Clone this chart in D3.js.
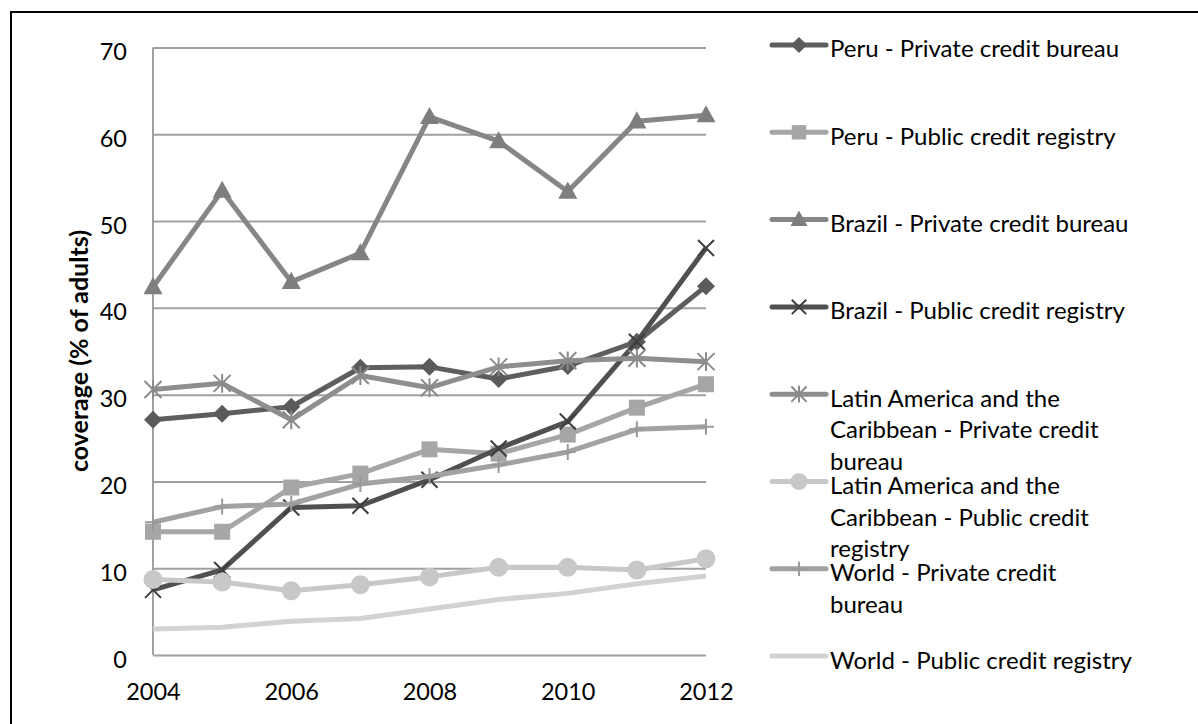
<!DOCTYPE html>
<html><head><meta charset="utf-8">
<script src="https://cdn.jsdelivr.net/npm/d3@7"></script>
<style>body{margin:0;background:#fff;} svg{display:block;}</style>
</head><body>
<svg id="c" width="1198" height="724"></svg>
<script>
const years = [2004,2005,2006,2007,2008,2009,2010,2011,2012];
const xTickLabels = [2004,2006,2008,2010,2012];
const yTickLabels = [0,10,20,30,40,50,60,70];
const yAxisTitle = "coverage (% of adults)";

const peruPrivate   = [27.1,27.8,28.6,33.1,33.2,31.8,33.3,36.1,42.5];
const peruPublic    = [14.2,14.2,19.3,20.9,23.7,23.2,25.4,28.5,31.2];
const brazilPrivate = [42.4,53.5,43.0,46.3,62.0,59.2,53.4,61.5,62.2];
const brazilPublic  = [7.5,9.8,17.0,17.2,20.2,23.8,26.9,36.1,46.9];
const lacPrivate    = [30.6,31.3,27.1,32.2,30.8,33.2,33.9,34.2,33.8];
const lacPublic     = [8.7,8.4,7.4,8.1,9.0,10.1,10.1,9.8,11.1];
const worldPrivate  = [15.3,17.1,17.4,19.7,20.6,21.9,23.4,26.0,26.3];
const worldPublic   = [3.0,3.2,3.9,4.2,5.3,6.4,7.1,8.2,9.1];

const seriesNames = [
  ["Peru - Private credit bureau"],
  ["Peru - Public credit registry"],
  ["Brazil - Private credit bureau"],
  ["Brazil - Public credit registry"],
  ["Latin America and the","Caribbean - Private credit","bureau"],
  ["Latin America and the","Caribbean - Public credit","registry"],
  ["World - Private credit","bureau"],
  ["World - Public credit registry"]
];
const seriesValues = [peruPrivate, peruPublic, brazilPrivate, brazilPublic, lacPrivate, lacPublic, worldPrivate, worldPublic];
const seriesColors = ["#5e5e5e","#a6a6a6","#868686","#505050","#8e8e8e","#c8c8c8","#a2a2a2","#d2d2d2"];
const markerKinds  = ["diamond","square","triangle","x","asterisk","circle","plus","none"];
const markerColors = ["#5a5a5a","#a6a6a6","#7e7e7e","#3e3e3e","#8a8a8a","#c8c8c8","#9a9a9a","none"];

const FONT = "Lato, 'Open Sans', sans-serif";
const svg = d3.select("#c");

// outer frame
svg.append("rect").attr("x",11).attr("y",12).attr("width",1210).attr("height",740)
  .attr("fill","none").attr("stroke","#000").attr("stroke-width",2);

const x = d3.scaleLinear().domain([2004,2012]).range([153,706]);
const y = d3.scaleLinear().domain([0,70]).range([655,47.5]);

// gridlines
const gy = svg.append("g").attr("transform","translate(153,0)")
  .call(d3.axisLeft(y).tickValues(yTickLabels).tickSize(-553).tickFormat(""));
gy.select(".domain").remove();
gy.selectAll(".tick line").attr("stroke","#a0a0a0").attr("stroke-width",2);

// left axis line
svg.append("line").attr("x1",153).attr("x2",153).attr("y1",y(70)).attr("y2",y(0))
  .attr("stroke","#a0a0a0").attr("stroke-width",2);

// y tick labels
const yl = svg.append("g").attr("transform","translate(127,0)")
  .call(d3.axisLeft(y).tickValues(yTickLabels).tickSize(0).tickPadding(0).tickFormat(d3.format("d")));
yl.select(".domain").remove();
yl.selectAll("text").attr("font-family",FONT).attr("font-size",23.5).attr("fill","#000").attr("dy",12);

// x tick labels
const xl = svg.append("g").attr("transform","translate(0,700)")
  .call(d3.axisBottom(x).tickValues(xTickLabels).tickSize(0).tickPadding(0).tickFormat(d3.format("d")));
xl.select(".domain").remove();
xl.selectAll("text").attr("font-family",FONT).attr("font-size",23.5).attr("fill","#000").attr("dy",0);

// y axis title
svg.append("text").attr("transform","translate(78,351) rotate(-90)")
  .attr("text-anchor","middle").attr("dominant-baseline","central")
  .attr("font-family",FONT).attr("font-weight","bold").attr("font-size",25).attr("fill","#000")
  .text(yAxisTitle);

function drawMarker(g, kind, cx, cy, color, scale) {
  const s = scale || 1;
  if (kind === "diamond") {
    const r = 9*s;
    g.append("path").attr("d",`M${cx},${cy-r}L${cx+r},${cy}L${cx},${cy+r}L${cx-r},${cy}Z`).attr("fill",color);
  } else if (kind === "square") {
    const r = 8*s;
    g.append("rect").attr("x",cx-r).attr("y",cy-r).attr("width",2*r).attr("height",2*r).attr("fill",color);
  } else if (kind === "triangle") {
    const r = 9.5*s;
    g.append("path").attr("d",`M${cx},${cy-r*1.05}L${cx+r},${cy+r*0.75}L${cx-r},${cy+r*0.75}Z`).attr("fill",color);
  } else if (kind === "circle") {
    g.append("circle").attr("cx",cx).attr("cy",cy).attr("r",9.5*s).attr("fill",color);
  } else if (kind === "x") {
    const r = 8*s;
    g.append("path").attr("d",`M${cx-r},${cy-r}L${cx+r},${cy+r}M${cx-r},${cy+r}L${cx+r},${cy-r}`)
      .attr("stroke",color).attr("stroke-width",2).attr("fill","none");
  } else if (kind === "asterisk") {
    const r = 8.5*s;
    g.append("path").attr("d",`M${cx-r},${cy-r}L${cx+r},${cy+r}M${cx-r},${cy+r}L${cx+r},${cy-r}M${cx},${cy-r*1.1}L${cx},${cy+r*1.1}`)
      .attr("stroke",color).attr("stroke-width",2).attr("fill","none");
  } else if (kind === "plus") {
    const r = 8*s;
    g.append("path").attr("d",`M${cx-r},${cy}L${cx+r},${cy}M${cx},${cy-r}L${cx},${cy+r}`)
      .attr("stroke",color).attr("stroke-width",2).attr("fill","none");
  }
}

const line = d3.line().x((d,i)=>x(years[i])).y(d=>y(d));
const plot = svg.append("g");
seriesValues.forEach((vals, si) => {
  const g = plot.append("g");
  g.append("path").attr("d", line(vals)).attr("fill","none")
    .attr("stroke", seriesColors[si]).attr("stroke-width",5).attr("stroke-linejoin","round");
  if (markerKinds[si] !== "none") {
    vals.forEach((v,i) => drawMarker(g, markerKinds[si], x(years[i]), y(v), markerColors[si]));
  }
});

// legend
const legend = svg.append("g");
seriesNames.forEach((lines, si) => {
  const ly = 45 + si*87.3;
  const g = legend.append("g");
  g.append("line").attr("x1",772).attr("x2",826).attr("y1",ly).attr("y2",ly)
    .attr("stroke",seriesColors[si]).attr("stroke-width",5).attr("stroke-linecap","round");
  if (markerKinds[si] !== "none") drawMarker(g, markerKinds[si], 799, ly, markerColors[si], 0.9);
  const t = g.append("text").attr("x",830).attr("y",ly)
    .attr("font-family",FONT).attr("font-size",24).attr("fill","#000").attr("dominant-baseline","central");
  lines.forEach((s, li) => {
    t.append("tspan").attr("x",830).attr("dy", li===0 ? "0.1em" : 31.7).text(s);
  });
});
</script>
</body></html>
